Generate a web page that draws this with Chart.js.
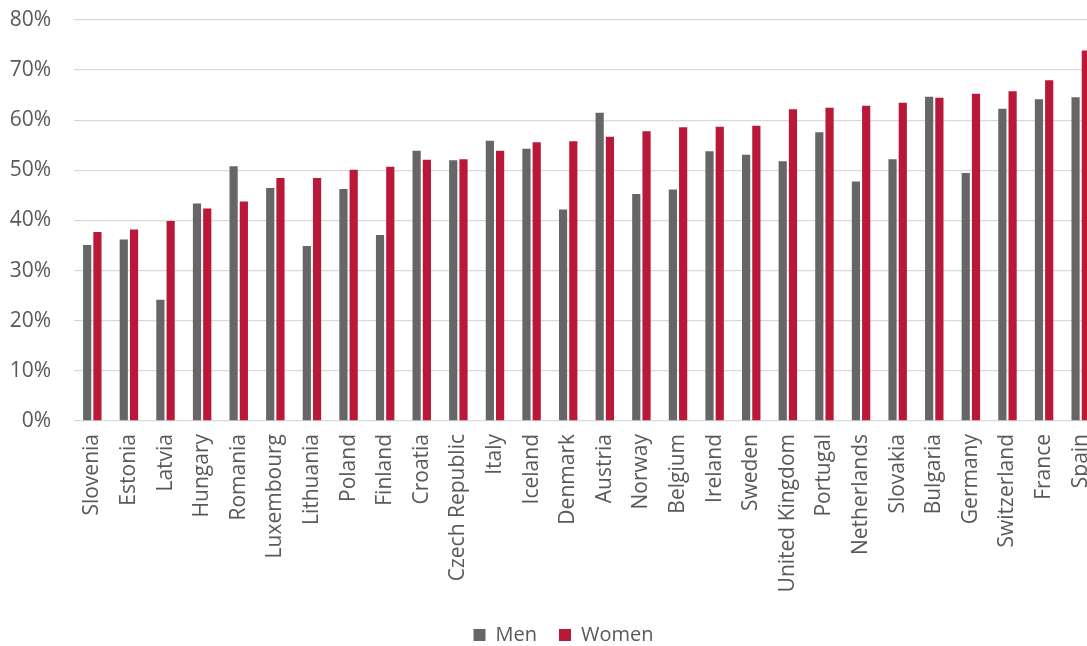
<!DOCTYPE html>
<html><head><meta charset="utf-8">
<script src="https://cdn.jsdelivr.net/npm/chart.js@4"></script>
<style>
html,body{margin:0;padding:0;overflow:hidden;background:#fff;width:1087px;height:646px}
#wrap{position:absolute;left:0;top:0;width:1100px;height:646px}
</style>
</head><body><div id="wrap"><canvas id="c"></canvas></div>
<script>
const countries=["Slovenia","Estonia","Latvia","Hungary","Romania","Luxembourg","Lithuania","Poland","Finland","Croatia","Czech Republic","Italy","Iceland","Denmark","Austria","Norway","Belgium","Ireland","Sweden","United Kingdom","Portugal","Netherlands","Slovakia","Bulgaria","Germany","Switzerland","France","Spain"];
const men=[35.1,36.2,24.2,43.4,50.8,46.5,34.9,46.3,37.1,53.9,52.0,55.9,54.3,42.2,61.5,45.3,46.2,53.8,53.1,51.8,57.6,47.8,52.2,64.7,49.5,62.3,64.2,64.6];
const women=[37.7,38.2,39.9,42.4,43.8,48.5,48.5,50.1,50.7,52.1,52.2,53.9,55.6,55.8,56.7,57.8,58.6,58.7,58.9,62.2,62.5,62.9,63.5,64.5,65.3,65.8,68.0,73.9];
const yMin=0, yMax=80, yStep=10;
const seriesNames=["Men","Women"];
const colors=["#666666","#BA1839"];

const shiftLegend={id:'shiftLegend',afterLayout(chart){const l=chart.legend;l.left+=14;l.right+=14;l.top+=9;l.bottom+=9;}};
const FONT="'Open Sans', sans-serif";
new Chart(document.getElementById('c'),{
  type:'bar',
  data:{labels:countries,datasets:[
    {label:seriesNames[0],data:men,backgroundColor:colors[0],categoryPercentage:0.56,barPercentage:0.8},
    {label:seriesNames[1],data:women,backgroundColor:colors[1],categoryPercentage:0.56,barPercentage:0.8}
  ]},
  options:{
    responsive:true,maintainAspectRatio:false,animation:false,
    layout:{padding:{top:20,left:0,right:1,bottom:0}},
    plugins:{
      legend:{position:'bottom',labels:{boxWidth:12,boxHeight:12,padding:22,color:'#595959',font:{family:FONT,size:20}}},
      tooltip:{enabled:false}
    },
    scales:{
      x:{grid:{display:false},border:{display:false},
        ticks:{autoSkip:false,minRotation:90,maxRotation:90,padding:5,color:'#595959',font:{family:FONT,size:21}},
        afterFit(s){s.height=173;s.paddingLeft=0;s.paddingRight=0;}},
      y:{min:yMin,max:yMax,border:{display:false},
        grid:{color:'#d9d9d9',lineWidth:1.3,drawTicks:false},
        ticks:{stepSize:yStep,padding:23,color:'#595959',font:{family:FONT,size:21},callback:v=>v+'%'},
        afterFit(s){s.width=74;s.paddingTop=0;s.paddingBottom=0;}}
    }
  },
  plugins:[shiftLegend]
});
</script>
</body></html>
